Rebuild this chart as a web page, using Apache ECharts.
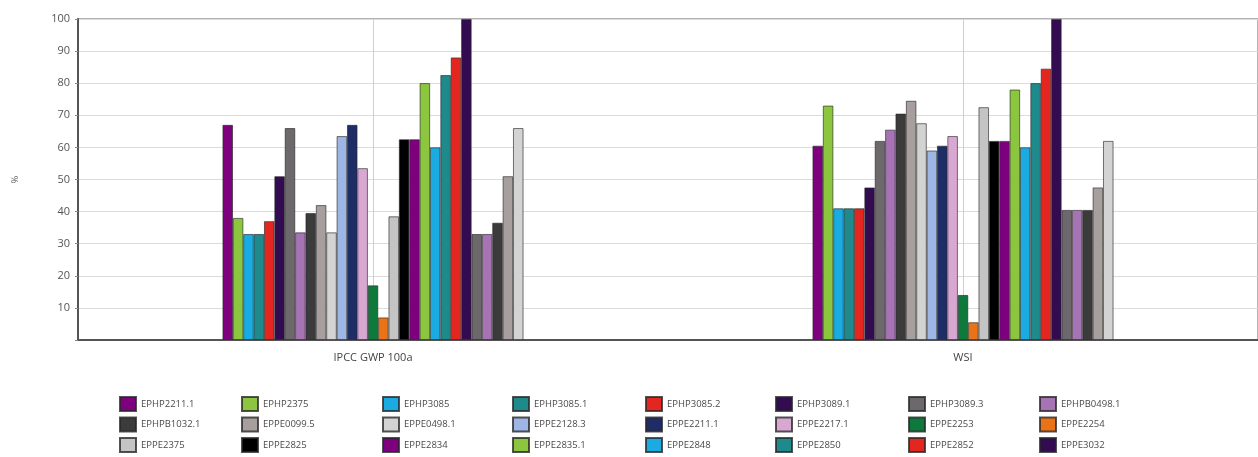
<!DOCTYPE html>
<html>
<head>
<meta charset="utf-8">
<script src="https://cdn.jsdelivr.net/npm/echarts@6/dist/echarts.min.js"></script>
<style>html,body{margin:0;padding:0;background:#fff}#c{width:1258px;height:457px}</style>
</head>
<body>
<div id="c"></div>
<script>
const categories = ['IPCC GWP 100a', 'WSI'];
const seriesNames = [
  'EPHP2211.1','EPHP2375','EPHP3085','EPHP3085.1','EPHP3085.2','EPHP3089.1','EPHP3089.3','EPHPB0498.1',
  'EPHPB1032.1','EPPE0099.5','EPPE0498.1','EPPE2128.3','EPPE2211.1','EPPE2217.1','EPPE2253','EPPE2254',
  'EPPE2375','EPPE2825','EPPE2834','EPPE2835.1','EPPE2848','EPPE2850','EPPE2852','EPPE3032',
  'EPPE3089.3','EPPE0498.2','EPPE1032.1','EPPE0099.6','EPPE0498.3'
];
const legendShown = 24;
const ipccValues = [67,38,33,33,37,51,66,33.5,39.5,42,33.5,63.5,67,53.5,17,7,38.5,62.5,62.5,80,60,82.5,88,100,33,33,36.5,51,66];
const wsiValues  = [60.5,73,41,41,41,47.5,62,65.5,70.5,74.5,67.5,59,60.5,63.5,14,5.5,72.5,62,62,78,60,80,84.5,100,40.5,40.5,40.5,47.5,62];
const palette = ['#7f007f','#8cc63f','#1aabe3','#1f8a8c','#e3261f','#330b50','#6d686c','#a673b4','#3b3b3b',
  '#a79e9e','#d3d3d3','#9eb6e6','#1f2d66','#d9a8d2','#0d7a3c','#eb7317','#c4c4c4','#000000'];
const yTicks = [10,20,30,40,50,60,70,80,90,100];

const series = seriesNames.map((n, i) => ({
  name: n,
  type: 'bar',
  data: [ipccValues[i], wsiValues[i]],
  barGap: '0%',
  barCategoryGap: '49%',
  itemStyle: { color: palette[i % palette.length], borderColor: 'rgba(40,40,40,0.8)', borderWidth: 0.8 }
}));

const legendCols = [119, 241, 382, 512, 645, 775, 908, 1039];
const legends = legendCols.map((x, c) => ({
  orient: 'vertical',
  left: x,
  top: 396,
  height: 61,
  padding: 0,
  itemWidth: 16,
  itemHeight: 14,
  itemGap: 4.5,
  icon: 'rect',
  selectedMode: false,
  textStyle: { fontSize: 9.5, color: '#4a4a4a', fontFamily: 'Open Sans' },
  data: [seriesNames[c], seriesNames[c + 8], seriesNames[c + 16]].filter((n, k) => c + 8 * k < legendShown)
}));

const chart = echarts.init(document.getElementById('c'), null, { renderer: 'canvas' });
chart.setOption({
  animation: false,
  color: palette,
  textStyle: { fontFamily: 'Open Sans' },
  grid: { left: 78, right: -4, top: 19, bottom: 117, show: true, borderColor: '#9a9a9a', borderWidth: 1.5 },
  legend: legends,
  xAxis: {
    type: 'category',
    data: categories,
    axisLine: { lineStyle: { color: '#555', width: 2 } },
    axisTick: { show: false },
    axisLabel: { fontSize: 11, color: '#444', margin: 12 },
    splitLine: { show: true, alignWithLabel: true, lineStyle: { color: '#cfcfcf', width: 1 } }
  },
  yAxis: {
    type: 'value',
    min: 0, max: 100, interval: 10,
    name: '%',
    nameLocation: 'middle',
    nameGap: 58,
    nameRotate: 90,
    nameTextStyle: { fontSize: 9, color: '#555' },
    axisLine: { show: true, lineStyle: { color: '#555', width: 2 } },
    axisTick: { show: true, length: 3, lineStyle: { color: '#888' } },
    axisLabel: { fontSize: 11, color: '#555', margin: 8, formatter: v => yTicks.includes(v) ? String(v) : '' },
    splitLine: { show: true, lineStyle: { color: '#dcdcdc', width: 1 } }
  },
  series: series
});
</script>
</body>
</html>
